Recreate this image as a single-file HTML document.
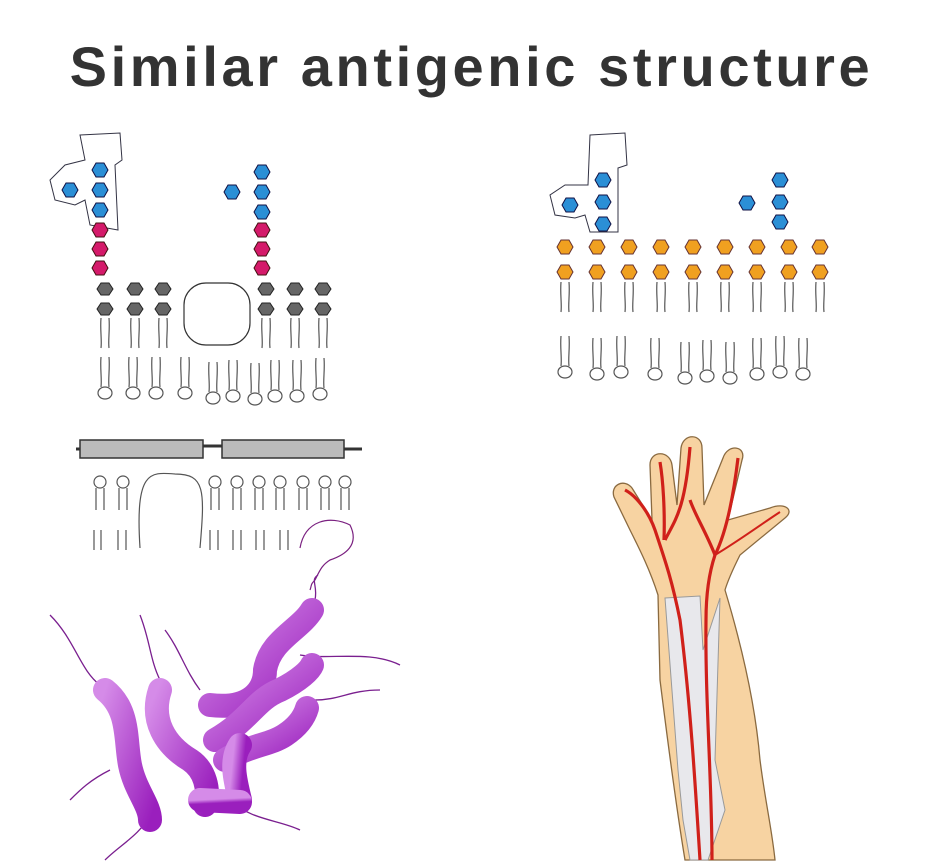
<!DOCTYPE html>
<html><head><meta charset="utf-8"><style>
html,body{margin:0;padding:0;background:#fff;}
body{width:943px;height:868px;overflow:hidden;position:relative;font-family:"Liberation Sans",sans-serif;}
h1{position:absolute;left:0;width:943px;top:34px;margin:0;text-align:center;font-size:56px;font-weight:bold;color:#333;letter-spacing:3.6px;}
svg{position:absolute;left:0;top:0;}
</style></head><body>
<h1>Similar antigenic structure</h1>
<svg width="943" height="868" viewBox="0 0 943 868">
<defs>
<polygon id="hx" points="-8,0 -4,-7 4,-7 8,0 4,7 -4,7"/>
<polygon id="hs" points="-8,0 -4,-6 4,-6 8,0 4,6 -4,6"/>
<g id="lip"><path d="M-4,8 C-5,20 -3,30 -4,38 M4,8 C5,20 3,30 4,38" fill="none" stroke="#555" stroke-width="1.2"/></g>
<g id="lipL"><path d="M-4,-30 C-5,-18 -3,-8 -4,0 M4,-30 C5,-18 3,-8 4,0" fill="none" stroke="#555" stroke-width="1.2"/><ellipse cx="0" cy="6" rx="7" ry="6" fill="#fff" stroke="#555" stroke-width="1.2"/></g>
<linearGradient id="pg" x1="0" y1="0" x2="1" y2="1"><stop offset="0" stop-color="#d58be8"/><stop offset="1" stop-color="#9a1fbd"/></linearGradient>
</defs>

<!-- Top-left membrane -->
<g stroke="#333" stroke-width="1" fill="none">
<path d="M80,135 L120,133 L122,160 L115,165 L118,230 L90,225 L85,200 L75,205 L55,200 L50,180 L65,165 L85,160 Z" stroke="#334"/>
</g>
<g fill="#2b8fd6" stroke="#114" stroke-width="1">
<use href="#hx" x="100" y="170"/><use href="#hx" x="100" y="190"/><use href="#hx" x="100" y="210"/><use href="#hx" x="70" y="190"/>
<use href="#hx" x="262" y="172"/><use href="#hx" x="262" y="192"/><use href="#hx" x="262" y="212"/><use href="#hx" x="232" y="192"/>
</g>
<g fill="#d41a6a" stroke="#411" stroke-width="1">
<use href="#hx" x="100" y="230"/><use href="#hx" x="100" y="249"/><use href="#hx" x="100" y="268"/>
<use href="#hx" x="262" y="230"/><use href="#hx" x="262" y="249"/><use href="#hx" x="262" y="268"/>
</g>
<g fill="#666" stroke="#222" stroke-width="1">
<use href="#hs" x="105" y="289"/><use href="#hs" x="135" y="289"/><use href="#hs" x="163" y="289"/>
<use href="#hs" x="105" y="309"/><use href="#hs" x="135" y="309"/><use href="#hs" x="163" y="309"/>
<use href="#hs" x="266" y="289"/><use href="#hs" x="295" y="289"/><use href="#hs" x="323" y="289"/>
<use href="#hs" x="266" y="309"/><use href="#hs" x="295" y="309"/><use href="#hs" x="323" y="309"/>
</g>
<rect x="184" y="283" width="66" height="62" rx="22" fill="#fff" stroke="#333" stroke-width="1.2"/>
<g>
<use href="#lip" x="105" y="310"/><use href="#lip" x="135" y="310"/><use href="#lip" x="163" y="310"/>
<use href="#lip" x="266" y="310"/><use href="#lip" x="295" y="310"/><use href="#lip" x="323" y="310"/>
<use href="#lipL" x="105" y="387"/><use href="#lipL" x="133" y="387"/><use href="#lipL" x="156" y="387"/><use href="#lipL" x="185" y="387"/><use href="#lipL" x="213" y="392"/><use href="#lipL" x="233" y="390"/><use href="#lipL" x="255" y="393"/><use href="#lipL" x="275" y="390"/><use href="#lipL" x="297" y="390"/><use href="#lipL" x="320" y="388"/>
</g>

<!-- Top-right membrane -->
<path d="M590,135 L625,133 L627,165 L618,168 L618,232 L590,232 L585,215 L575,218 L555,215 L550,195 L565,185 L588,185 Z" fill="none" stroke="#334" stroke-width="1"/>
<g fill="#2b8fd6" stroke="#114" stroke-width="1">
<use href="#hx" x="603" y="180"/><use href="#hx" x="603" y="202"/><use href="#hx" x="603" y="224"/><use href="#hx" x="570" y="205"/>
<use href="#hx" x="780" y="180"/><use href="#hx" x="780" y="202"/><use href="#hx" x="780" y="222"/><use href="#hx" x="747" y="203"/>
</g>
<g fill="#f0a020" stroke="#633" stroke-width="1">
<use href="#hx" x="565" y="247"/><use href="#hx" x="597" y="247"/><use href="#hx" x="629" y="247"/><use href="#hx" x="661" y="247"/><use href="#hx" x="693" y="247"/><use href="#hx" x="725" y="247"/><use href="#hx" x="757" y="247"/><use href="#hx" x="789" y="247"/><use href="#hx" x="820" y="247"/>
<use href="#hx" x="565" y="272"/><use href="#hx" x="597" y="272"/><use href="#hx" x="629" y="272"/><use href="#hx" x="661" y="272"/><use href="#hx" x="693" y="272"/><use href="#hx" x="725" y="272"/><use href="#hx" x="757" y="272"/><use href="#hx" x="789" y="272"/><use href="#hx" x="820" y="272"/>
</g>
<g>
<use href="#lip" x="565" y="274"/><use href="#lip" x="597" y="274"/><use href="#lip" x="629" y="274"/><use href="#lip" x="661" y="274"/><use href="#lip" x="693" y="274"/><use href="#lip" x="725" y="274"/><use href="#lip" x="757" y="274"/><use href="#lip" x="789" y="274"/><use href="#lip" x="820" y="274"/>
<use href="#lipL" x="565" y="366"/><use href="#lipL" x="597" y="368"/><use href="#lipL" x="621" y="366"/><use href="#lipL" x="655" y="368"/><use href="#lipL" x="685" y="372"/><use href="#lipL" x="707" y="370"/><use href="#lipL" x="730" y="372"/><use href="#lipL" x="757" y="368"/><use href="#lipL" x="780" y="366"/><use href="#lipL" x="803" y="368"/>
</g>

<!-- Middle-left membrane -->
<rect x="80" y="440" width="123" height="18" fill="#bbb" stroke="#333" stroke-width="1.5"/>
<rect x="222" y="440" width="122" height="18" fill="#bbb" stroke="#333" stroke-width="1.5"/>
<path d="M76,449 H80 M203,446 H222 M344,449 H362" stroke="#333" stroke-width="3"/>
<g fill="#fff" stroke="#555" stroke-width="1.2">
<circle cx="100" cy="482" r="6"/><circle cx="123" cy="482" r="6"/><circle cx="215" cy="482" r="6"/><circle cx="237" cy="482" r="6"/><circle cx="259" cy="482" r="6"/><circle cx="280" cy="482" r="6"/><circle cx="303" cy="482" r="6"/><circle cx="325" cy="482" r="6"/><circle cx="345" cy="482" r="6"/>
</g>
<g fill="none" stroke="#555" stroke-width="1.2">
<path d="M96,488 v22 M104,488 v22 M119,488 v22 M127,488 v22 M211,488 v22 M219,488 v22 M233,488 v22 M241,488 v22 M255,488 v22 M263,488 v22 M276,488 v22 M284,488 v22 M299,488 v22 M307,488 v22 M321,488 v22 M329,488 v22 M341,488 v22 M349,488 v22"/>
<path d="M94,530 v20 M101,530 v20 M118,530 v20 M126,530 v20 M210,530 v20 M218,530 v20 M233,530 v20 M241,530 v20 M256,530 v20 M264,530 v20 M280,530 v20 M288,530 v20"/>
<path d="M140,548 C135,470 150,472 175,474 C205,474 205,490 200,548"/>
<path d="M300,548 C305,520 330,515 350,525 C360,545 345,555 330,560 C322,565 320,570 315,580 C310,585 312,585 310,590" stroke="#7a2080"/>
</g>

<!-- Bacteria flagella -->
<g fill="none" stroke="#7a1f8f" stroke-width="1.3">
<path d="M315,600 C318,585 310,580 318,575"/>
<path d="M100,685 C80,670 75,640 50,615"/>
<path d="M160,680 C150,660 150,640 140,615"/>
<path d="M200,690 C185,670 180,650 165,630"/>
<path d="M300,655 C330,660 370,650 400,665"/>
<path d="M315,700 C340,700 350,690 380,690"/>
<path d="M150,815 C140,835 120,845 105,860"/>
<path d="M230,800 C250,820 280,820 300,830"/>
<path d="M110,770 C90,780 80,790 70,800"/>
</g>
<g fill="none" stroke="url(#pg)" stroke-width="24" stroke-linecap="round">
<path d="M105,690 C130,710 125,740 130,765 C135,790 150,805 150,820"/>
<path d="M160,690 C150,720 165,745 190,760 C205,770 210,790 205,805"/>
<path d="M210,705 C250,710 265,690 265,670 C270,640 300,630 312,610"/>
<path d="M215,740 C250,720 255,700 280,690 C300,680 310,670 312,665"/>
<path d="M225,760 C250,745 270,745 285,735 C300,725 305,715 307,708"/>
<path d="M240,800 C235,780 230,760 240,745"/>
<path d="M200,800 L240,802"/>
</g>

<!-- Arm -->
<path d="M658,595 C650,570 640,550 630,530 L614,497 C610,485 624,478 632,488 L652,520 L650,465 C650,450 670,450 672,465 L677,505 L681,448 C683,433 702,433 702,448 L704,505 L723,458 C728,443 747,446 742,460 L728,520 L770,508 C785,502 795,510 785,518 L740,555 C735,565 728,580 725,590 C740,640 755,700 760,760 C765,800 772,830 775,860 L685,860 C675,800 665,720 660,680 Z" fill="#f7d3a2" stroke="#8a6a40" stroke-width="1.3"/>
<path d="M665,598 L700,596 L703,650 L720,598 L715,760 L725,810 L708,860 L690,860 L683,820 L678,770 Z" fill="#e8e8ec" stroke="#999" stroke-width="1"/>
<g fill="none" stroke="#d0201a" stroke-width="3.2">
<path d="M700,860 C695,780 690,700 680,620 C672,580 665,560 655,530 C648,510 635,495 625,490"/>
<path d="M712,860 C712,780 705,700 706,620 C706,590 710,570 715,555 C725,535 733,500 738,458"/>
<path d="M664,540 C665,510 663,480 660,462"/>
<path d="M665,540 C675,520 685,510 690,447"/>
<path d="M715,555 C705,530 695,515 690,500"/>
<path d="M715,555 C740,540 760,525 780,512" stroke-width="2"/>
</g>
</svg>
</body></html>
